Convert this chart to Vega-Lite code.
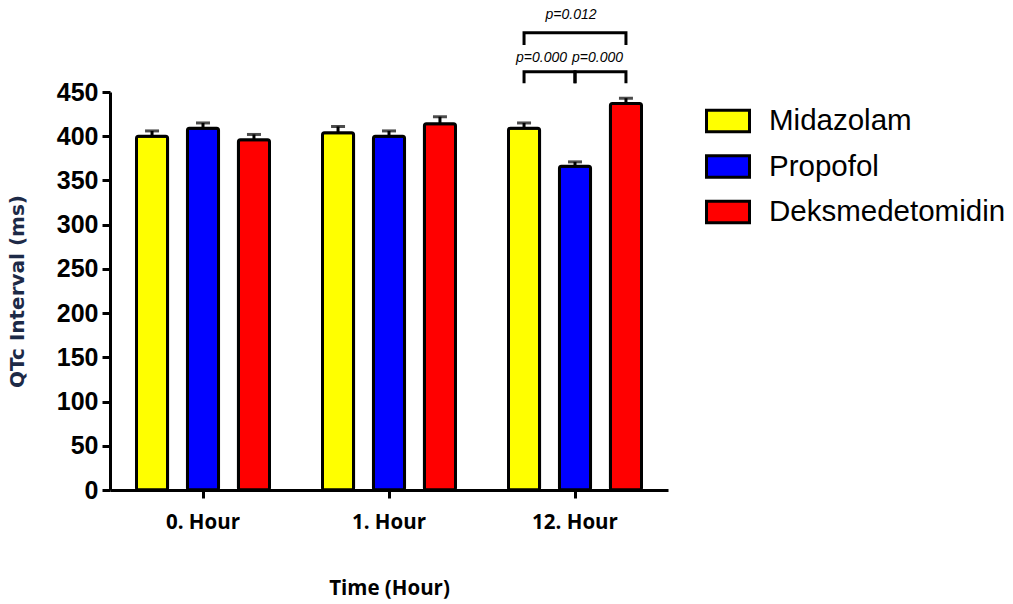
{
  "$schema": "https://vega.github.io/schema/vega-lite/v6.json",
  "width": 558,
  "height": 398,
  "autosize": "none",
  "padding": {"left": 110, "top": 92, "right": 345, "bottom": 114},
  "background": "white",
  "datasets": {
    "qtc": [
      {"time": "0. Hour", "group": "Midazolam", "mean": 400, "sem": 6},
      {"time": "0. Hour", "group": "Propofol", "mean": 409, "sem": 6},
      {"time": "0. Hour", "group": "Deksmedetomidin", "mean": 396, "sem": 6},
      {"time": "1. Hour", "group": "Midazolam", "mean": 404, "sem": 7},
      {"time": "1. Hour", "group": "Propofol", "mean": 400, "sem": 6},
      {"time": "1. Hour", "group": "Deksmedetomidin", "mean": 414, "sem": 8},
      {"time": "12. Hour", "group": "Midazolam", "mean": 409, "sem": 6},
      {"time": "12. Hour", "group": "Propofol", "mean": 366, "sem": 5},
      {"time": "12. Hour", "group": "Deksmedetomidin", "mean": 437, "sem": 6}
    ],
    "brackets": [
      {"pair": "M-P", "time": "12. Hour", "group": "Midazolam", "step": 1, "y": 460},
      {"pair": "M-P", "time": "12. Hour", "group": "Midazolam", "step": 2, "y": 473},
      {"pair": "M-P", "time": "12. Hour", "group": "Propofol", "step": 3, "y": 473},
      {"pair": "M-P", "time": "12. Hour", "group": "Propofol", "step": 4, "y": 460},
      {"pair": "P-D", "time": "12. Hour", "group": "Propofol", "step": 1, "y": 460},
      {"pair": "P-D", "time": "12. Hour", "group": "Propofol", "step": 2, "y": 473},
      {"pair": "P-D", "time": "12. Hour", "group": "Deksmedetomidin", "step": 3, "y": 473},
      {"pair": "P-D", "time": "12. Hour", "group": "Deksmedetomidin", "step": 4, "y": 460},
      {"pair": "M-D", "time": "12. Hour", "group": "Midazolam", "step": 1, "y": 503},
      {"pair": "M-D", "time": "12. Hour", "group": "Midazolam", "step": 2, "y": 517},
      {"pair": "M-D", "time": "12. Hour", "group": "Deksmedetomidin", "step": 3, "y": 517},
      {"pair": "M-D", "time": "12. Hour", "group": "Deksmedetomidin", "step": 4, "y": 503}
    ],
    "pvalues": [
      {"pair": "M-P", "time": "12. Hour", "group": "Propofol", "y": 484, "label": "p=0.000"},
      {"pair": "P-D", "time": "12. Hour", "group": "Propofol", "y": 484, "label": "p=0.000"},
      {"pair": "M-D", "time": "12. Hour", "group": "Propofol", "y": 532, "label": "p=0.012"}
    ]
  },
  "encoding": {
    "x": {
      "field": "time",
      "type": "nominal",
      "sort": ["0. Hour", "1. Hour", "12. Hour"],
      "scale": {"domain": ["0. Hour", "1. Hour", "12. Hour"], "paddingInner": 0, "paddingOuter": 0},
      "axis": {
        "title": "Time (Hour)",
        "labelAngle": 0,
        "labelFont": "Open Sans",
        "labelFontWeight": "bold",
        "labelFontSize": 20.5,
        "labelColor": "black",
        "labelPadding": 14,
        "domainColor": "black",
        "domainWidth": 3,
        "tickColor": "black",
        "tickWidth": 3,
        "tickSize": 8,
        "titleFont": "Open Sans",
        "titleFontWeight": "bold",
        "titleFontSize": 20.5,
        "titleColor": "black",
        "titlePadding": 46
      }
    },
    "xOffset": {
      "field": "group",
      "type": "nominal",
      "scale": {"domain": ["Midazolam", "Propofol", "Deksmedetomidin"], "paddingInner": 0.39, "paddingOuter": 0.52}
    }
  },
  "layer": [
    {
      "data": {"name": "qtc"},
      "mark": {"type": "rule", "color": "black", "strokeWidth": 3},
      "encoding": {
        "y": {"field": "mean", "type": "quantitative"},
        "y2": {"field": "upper"}
      },
      "transform": [{"calculate": "datum.mean + datum.sem", "as": "upper"}]
    },
    {
      "data": {"name": "qtc"},
      "transform": [{"calculate": "datum.mean + datum.sem", "as": "upper"}],
      "mark": {"type": "tick", "color": "black", "thickness": 3, "size": 14, "orient": "horizontal"},
      "encoding": {
        "y": {"field": "upper", "type": "quantitative"}
      }
    },
    {
      "data": {"name": "qtc"},
      "mark": {"type": "bar", "stroke": "black", "strokeWidth": 3, "cornerRadius": 2},
      "encoding": {
        "y": {
          "field": "mean",
          "type": "quantitative",
          "scale": {"domain": [0, 450], "nice": false},
          "axis": {
            "title": "QTc Interval (ms)",
            "values": [0, 50, 100, 150, 200, 250, 300, 350, 400, 450],
            "grid": false,
            "labelFont": "Liberation Sans",
            "labelFontWeight": "bold",
            "labelFontSize": 25,
            "labelColor": "black",
            "labelPadding": 4,
            "domainColor": "black",
            "domainWidth": 3,
            "tickColor": "black",
            "tickWidth": 3,
            "tickSize": 8,
            "titleFont": "DejaVu Sans",
            "titleFontWeight": "bold",
            "titleFontSize": 20,
            "titleColor": "#1d2a47",
            "titlePadding": 29
          }
        },
        "fill": {
          "field": "group",
          "type": "nominal",
          "scale": {
            "domain": ["Midazolam", "Propofol", "Deksmedetomidin"],
            "range": ["#ffff00", "#0000ff", "#ff0000"]
          },
          "legend": {
            "title": null,
            "orient": "none",
            "legendX": 595,
            "legendY": 6,
            "symbolType": "M-1,-0.5H1V0.5H-1Z",
            "symbolSize": 1849,
            "symbolStrokeColor": "black",
            "symbolStrokeWidth": 3,
            "symbolOpacity": 1,
            "labelFont": "Liberation Sans",
            "labelFontSize": 29.5,
            "labelColor": "black",
            "labelOffset": 18,
            "labelLimit": 400,
            "rowPadding": 5.5
          }
        }
      }
    },
    {
      "data": {"name": "brackets"},
      "mark": {"type": "line", "color": "black", "strokeWidth": 3, "strokeCap": "butt"},
      "encoding": {
        "y": {"field": "y", "type": "quantitative"},
        "detail": {"field": "pair"},
        "order": {"field": "step", "type": "quantitative"}
      }
    },
    {
      "data": {"name": "pvalues"},
      "transform": [{"filter": "datum.pair === 'M-P'"}],
      "mark": {"type": "text", "font": "Liberation Sans", "fontStyle": "italic", "fontSize": 14, "align": "right", "baseline": "alphabetic", "dx": -8, "color": "black"},
      "encoding": {
        "y": {"field": "y", "type": "quantitative"},
        "text": {"field": "label"}
      }
    },
    {
      "data": {"name": "pvalues"},
      "transform": [{"filter": "datum.pair === 'P-D'"}],
      "mark": {"type": "text", "font": "Liberation Sans", "fontStyle": "italic", "fontSize": 14, "align": "left", "baseline": "alphabetic", "dx": -3, "color": "black"},
      "encoding": {
        "y": {"field": "y", "type": "quantitative"},
        "text": {"field": "label"}
      }
    },
    {
      "data": {"name": "pvalues"},
      "transform": [{"filter": "datum.pair === 'M-D'"}],
      "mark": {"type": "text", "font": "Liberation Sans", "fontStyle": "italic", "fontSize": 14, "align": "center", "baseline": "alphabetic", "dx": -4, "color": "black"},
      "encoding": {
        "y": {"field": "y", "type": "quantitative"},
        "text": {"field": "label"}
      }
    }
  ],
  "config": {"view": {"stroke": null}}
}
